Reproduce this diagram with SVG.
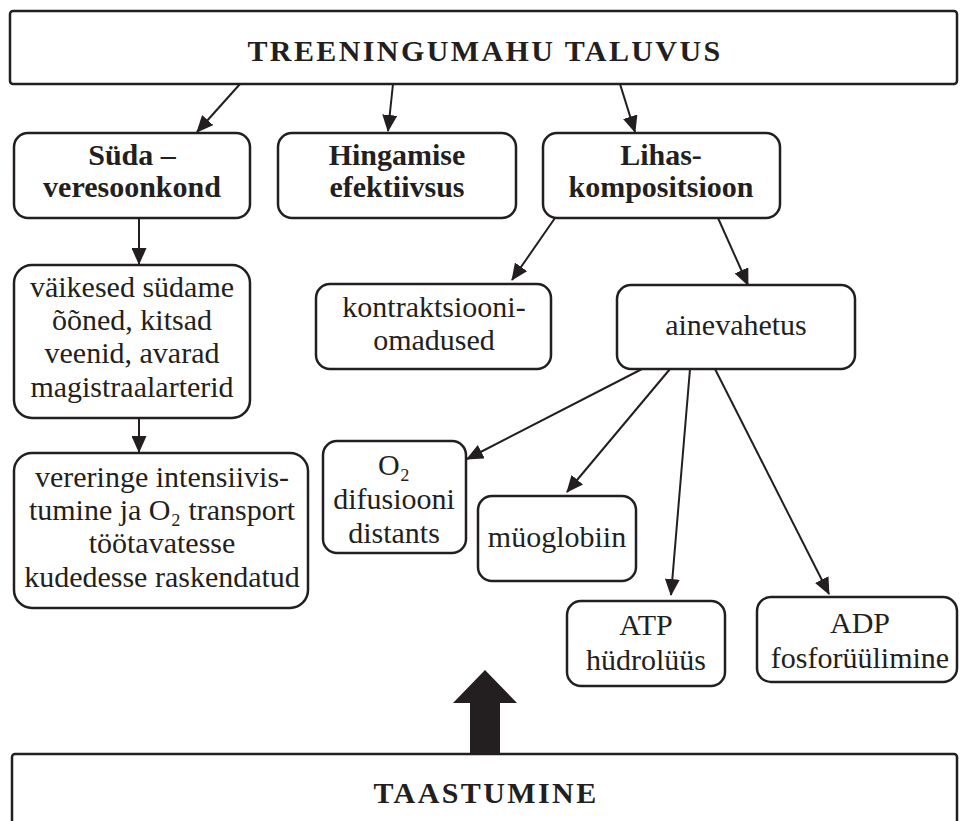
<svg xmlns="http://www.w3.org/2000/svg" width="962" height="821" viewBox="0 0 962 821">
<style>
.box{fill:#fff;stroke:#231f20;stroke-width:2.5}
.t{font-family:"Liberation Serif","Times New Roman",serif;font-size:30px;fill:#231f20;text-anchor:middle}
.b{font-weight:bold}
.cap{font-family:"Liberation Serif","Times New Roman",serif;font-size:30px;font-weight:bold;letter-spacing:2.4px;fill:#231f20;text-anchor:middle}
.c{stroke:#231f20;stroke-width:2;fill:none;marker-end:url(#ah)}
</style>
<defs>
<marker id="ah" markerUnits="userSpaceOnUse" viewBox="0 0 17 15" refX="16" refY="7.5" markerWidth="17" markerHeight="15" orient="auto">
<path d="M0,0 L17,7.5 L0,15 z" fill="#231f20"/>
</marker>
</defs>
<rect width="962" height="821" fill="#fff"/>

<g id="top">
<rect class="box" x="10" y="11" width="947" height="73" rx="3"/>
<text class="cap" x="485" y="61">TREENINGUMAHU TALUVUS</text>
</g>

<g id="suda">
<rect class="box" x="14" y="133" width="236" height="85" rx="14"/>
<text class="t b" x="132" y="165">Süda –</text>
<text class="t b" x="132" y="197">veresoonkond</text>
</g>

<g id="hingamise">
<rect class="box" x="278" y="133" width="238" height="85" rx="14"/>
<text class="t b" x="397" y="165">Hingamise</text>
<text class="t b" x="397" y="197">efektiivsus</text>
</g>

<g id="lihas">
<rect class="box" x="543" y="133" width="237" height="85" rx="14"/>
<text class="t b" x="661" y="165">Lihas-</text>
<text class="t b" x="661" y="197">kompositsioon</text>
</g>

<g id="vaikesed">
<rect class="box" x="14" y="265" width="236" height="153" rx="18"/>
<text class="t" x="132" y="297">väikesed südame</text>
<text class="t" x="132" y="330">õõned, kitsad</text>
<text class="t" x="132" y="363">veenid, avarad</text>
<text class="t" x="132" y="397">magistraalarterid</text>
</g>

<g id="vereringe">
<rect class="box" x="14" y="453" width="294" height="155" rx="18"/>
<text class="t" x="162" y="487">vereringe  intensiivis-</text>
<text class="t" x="162" y="520">tumine ja O₂ transport</text>
<text class="t" x="162" y="553">töötavatesse</text>
<text class="t" x="162" y="587">kudedesse raskendatud</text>
</g>

<g id="kontraktsiooni">
<rect class="box" x="316" y="284" width="235" height="85" rx="14"/>
<text class="t" x="434" y="317">kontraktsiooni-</text>
<text class="t" x="434" y="350">omadused</text>
</g>

<g id="ainevahetus">
<rect class="box" x="617" y="285" width="238" height="84" rx="14"/>
<text class="t" x="736" y="335">ainevahetus</text>
</g>

<g id="o2">
<rect class="box" x="323" y="441" width="143" height="112" rx="14"/>
<text class="t" x="394" y="475">O₂</text>
<text class="t" x="394" y="509">difusiooni</text>
<text class="t" x="394" y="543">distants</text>
</g>

<g id="myoglobiin">
<rect class="box" x="478" y="496" width="158" height="85" rx="14"/>
<text class="t" x="557" y="547">müoglobiin</text>
</g>

<g id="atp">
<rect class="box" x="567" y="601" width="158" height="85" rx="14"/>
<text class="t" x="646" y="635">ATP</text>
<text class="t" x="646" y="670">hüdrolüüs</text>
</g>

<g id="adp">
<rect class="box" x="757" y="597" width="200" height="85" rx="14"/>
<text class="t" x="860" y="633">ADP</text>
<text class="t" x="860" y="668">fosforüülimine</text>
</g>

<g id="taastumine">
<rect class="box" x="12" y="754" width="945" height="100" rx="3"/>
<text class="cap" x="486" y="803">TAASTUMINE</text>
</g>

<g id="connectors">
<line class="c" x1="240" y1="84" x2="197" y2="132"/>
<line class="c" x1="393" y1="84" x2="388" y2="131"/>
<line class="c" x1="620" y1="84" x2="635" y2="132"/>
<line class="c" x1="139" y1="218" x2="139" y2="264"/>
<line class="c" x1="139" y1="418" x2="139" y2="452"/>
<line class="c" x1="555" y1="218" x2="512" y2="280"/>
<line class="c" x1="718" y1="218" x2="748" y2="285"/>
<line class="c" x1="642" y1="369" x2="467" y2="459"/>
<line class="c" x1="670" y1="369" x2="567" y2="492"/>
<line class="c" x1="690" y1="369" x2="671" y2="595"/>
<line class="c" x1="715" y1="369" x2="829" y2="594"/>
<polygon id="bigarrow" points="485,670 517,703 500,703 500,755 470,755 470,703 453,703" fill="#231f20"/>
</g>
</svg>
